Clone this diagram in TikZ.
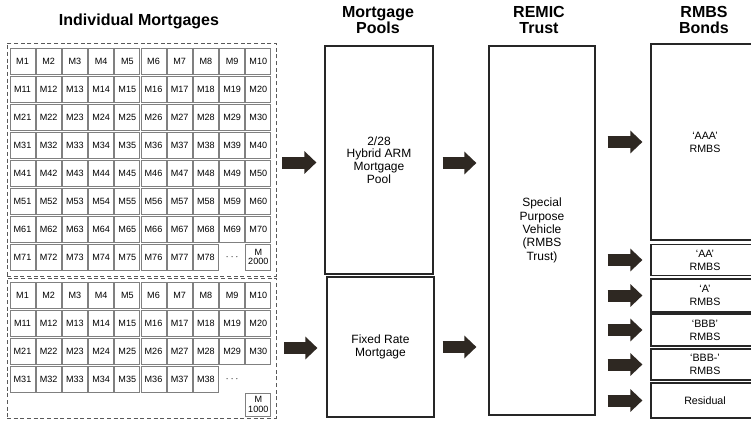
\documentclass[tikz,border=0pt]{standalone}
\usepackage{fontspec}
\setmainfont{Liberation Sans}
\usetikzlibrary{arrows.meta,positioning}

\newcommand{\pxl}{0.75pt}
\definecolor{arrowbrown}{HTML}{2E2822}
\definecolor{cellgray}{HTML}{808080}

\tikzset{
  cellbox/.style={draw=cellgray, line width=0.7pt, minimum width=25*\pxl, minimum height=26*\pxl,
    inner sep=0pt, align=center, font=\fontsize{6.8}{7}\selectfont},
  dotcell/.style={inner sep=0pt, font=\fontsize{6.8}{7}\selectfont},
  groupbox/.style={draw=black!65, densely dashed, line width=0.6pt, inner sep=0pt},
  poolbox/.style={draw=black!85, line width=0.9pt, inner sep=0pt, align=center,
    font=\fontsize{9}{9.6}\selectfont},
  bondbox/.style={poolbox, minimum width=108*\pxl, font=\fontsize{8}{9.8}\selectfont},
  coltitle/.style={font=\bfseries\fontsize{12}{12}\selectfont, align=center},
  fatarrow/.style={draw=arrowbrown, line width=12*\pxl, -{Triangle[length=9pt,width=16.5pt]}}
}

\begin{document}
\begin{tikzpicture}[x=0.75pt,y=-0.75pt]
  \useasboundingbox (0,0) rectangle (751,421);

  % column titles
  \node[coltitle] (titlemort) at (139,21) {Individual Mortgages};
  \node[coltitle] (titlepool) at (378,20) {Mortgage\\Pools};
  \node[coltitle] (titleremic) at (539,20) {REMIC\\Trust};
  \node[coltitle] (titlebond) at (704,20) {RMBS\\Bonds};

  % groups of mortgages
  \node[groupbox, minimum width=269*\pxl, minimum height=233*\pxl] (topgrp) at (141.5,159.5) {};
  \node[groupbox, minimum width=269*\pxl, minimum height=140*\pxl] (botgrp) at (141.5,348) {};

  % first group: M1 .. M78, M2000
  \foreach \r in {1,...,7}
    \foreach \c in {1,...,10} {
      \pgfmathtruncatemacro{\n}{(\r-1)*10+\c}
      \node[cellbox] (ta-\n) at ({22.5+26.2*(\c-1)},{61+28*(\r-1)}) {M\n};
    }
  \foreach \c in {1,...,8} {
    \pgfmathtruncatemacro{\n}{70+\c}
    \node[cellbox] (ta-\n) at ({22.5+26.2*(\c-1)},257) {M\n};
  }
  \node[dotcell] (tadots) at ({22.5+26.2*8},257) {$\cdots$};
  \node[cellbox] (ta-last) at ({22.5+26.2*9},257) {M\\2000};

  % second group: M1 .. M38, M1000
  \foreach \r in {1,...,3}
    \foreach \c in {1,...,10} {
      \pgfmathtruncatemacro{\n}{(\r-1)*10+\c}
      \node[cellbox] (tb-\n) at ({22.5+26.2*(\c-1)},{295+28*(\r-1)}) {M\n};
    }
  \foreach \c in {1,...,8} {
    \pgfmathtruncatemacro{\n}{30+\c}
    \node[cellbox] (tb-\n) at ({22.5+26.2*(\c-1)},379) {M\n};
  }
  \node[dotcell] (tbdots) at ({22.5+26.2*8},379) {$\cdots$};
  \node[cellbox, minimum height=23*\pxl] (tb-last) at ({22.5+26.2*9},404.5) {M\\1000};

  % mortgage pools
  \node[poolbox, minimum width=108*\pxl, minimum height=228*\pxl] (hybrid) at (379,160)
    {2/28\\Hybrid ARM\\Mortgage\\Pool};
  \node[poolbox, minimum width=107*\pxl, minimum height=140*\pxl] (fixed) at (380.5,347)
    {Fixed Rate\\Mortgage};

  % trust
  \node[poolbox, minimum width=106*\pxl, minimum height=369*\pxl, font=\fontsize{9}{10}\selectfont]
    (remic) at (542,230.5) {Special\\Purpose\\Vehicle\\(RMBS\\Trust)};

  % bonds
  \node[bondbox, minimum height=196*\pxl] (aaa) at (705,142) {`AAA'\\RMBS};
  \node[bondbox, minimum height=31*\pxl] (aa) at (705,260) {`AA'\\RMBS};
  \node[bondbox, minimum height=33*\pxl] (a) at (705,295.5) {`A'\\RMBS};
  \node[bondbox, minimum height=32*\pxl] (bbb) at (705,330) {`BBB'\\RMBS};
  \node[bondbox, minimum height=31*\pxl] (bbbm) at (705,364.5) {`BBB-'\\RMBS};
  \node[bondbox, minimum height=35*\pxl] (resid) at (705,400.5) {Residual};

  % arrows
  \draw[fatarrow, shorten <=6*\pxl, shorten >=8*\pxl] ([yshift=-3*\pxl]topgrp.east) -- ([yshift=-3*\pxl]topgrp.east -| hybrid.west);
  \draw[fatarrow, shorten <=8*\pxl, shorten >=9*\pxl] (botgrp.east) -- (botgrp.east -| fixed.west);
  \draw[fatarrow, shorten <=9*\pxl, shorten >=12*\pxl] ([yshift=-3*\pxl]hybrid.east) -- ([yshift=-3*\pxl]hybrid.east -| remic.west);
  \draw[fatarrow, shorten <=8*\pxl, shorten >=12*\pxl] (fixed.east) -- (fixed.east -| remic.west);
  \foreach \b in {aaa,aa,a,bbb,bbbm,resid}
    \draw[fatarrow, shorten <=12*\pxl, shorten >=8*\pxl] (remic.east |- \b.west) -- (\b.west);
\end{tikzpicture}
\end{document}
